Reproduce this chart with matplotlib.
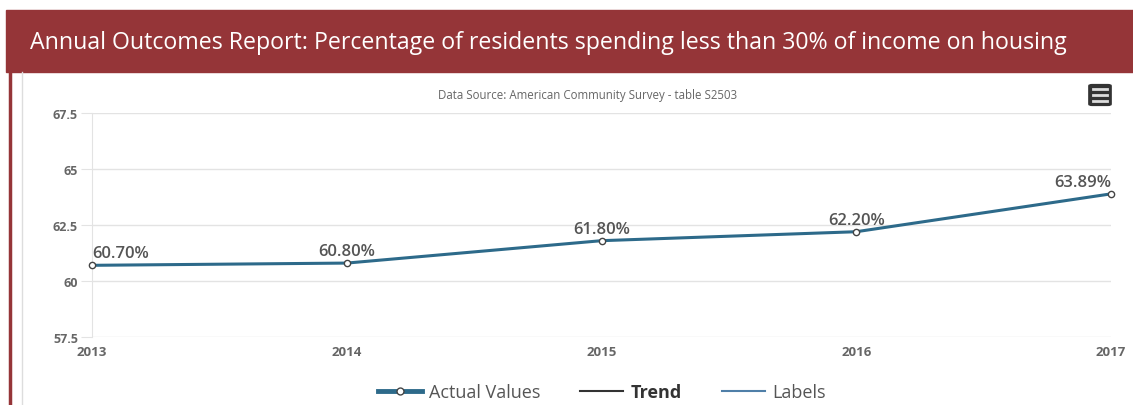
import matplotlib
matplotlib.use("Agg")
import matplotlib.pyplot as plt
from matplotlib.patches import Rectangle, FancyBboxPatch
from matplotlib.lines import Line2D

YEARS = [2013, 2014, 2015, 2016, 2017]
VALUES = [60.70, 60.80, 61.80, 62.20, 63.89]
LABELS = ["60.70%", "60.80%", "61.80%", "62.20%", "63.89%"]
YTICKS = [57.5, 60, 62.5, 65, 67.5]
YTICK_LABELS = ["57.5", "60", "62.5", "65", "67.5"]

TITLE = "Annual Outcomes Report: Percentage of residents spending less than 30% of income on housing"
SUBTITLE = "Data Source: American Community Survey - table S2503"

RED = "#953538"
LINE = "#2D6A8A"
GRID = "#e3e3e3"
TXT = "#666666"

W, H = 1133, 406
fig = plt.figure(figsize=(W / 100, H / 100), dpi=100)
fig.patch.set_facecolor("white")

# title banner
fig.patches.append(Rectangle((6 / W, 1 - 73 / H), 1 - 6 / W, 62 / H,
                             transform=fig.transFigure, color=RED, zorder=0))
fig.text(30 / W, 1 - 43 / H, TITLE, color="white", fontsize=16.7,
         family="Open Sans", va="center", ha="left")
# left red border and light panel edge
fig.add_artist(Line2D([10.5 / W, 10.5 / W], [0, 1 - 73 / H], color=RED, lw=2.5,
                      transform=fig.transFigure))
fig.add_artist(Line2D([22 / W, 22 / W], [0, 1 - 73 / H], color="#dddddd", lw=1,
                      transform=fig.transFigure))

ax = fig.add_axes([92 / W, 68 / H, (1111 - 92) / W, (338 - 114) / H])
ax.plot(YEARS, VALUES, color=LINE, lw=2.2, marker="o", ms=4.5,
        markerfacecolor="white", markeredgecolor="#444444", markeredgewidth=1,
        zorder=3, clip_on=False)
for x, y, s in zip(YEARS, VALUES, LABELS):
    ha = "left" if x == YEARS[0] else ("right" if x == YEARS[-1] else "center")
    ax.annotate(s, (x, y), xytext=(0, 3), textcoords="offset points", ha=ha,
                va="bottom", fontsize=12, color="#555555", family="Open Sans",
                fontweight="semibold")

ax.set_xlim(YEARS[0], YEARS[-1])
ax.set_ylim(57.5, 67.5)
ax.set_xticks(YEARS)
ax.set_xticklabels([str(y) for y in YEARS])
ax.set_yticks(YTICKS)
ax.set_yticklabels(YTICK_LABELS)
ax.grid(axis="y", color=GRID, lw=1)
for s in ["top", "right", "bottom"]:
    ax.spines[s].set_visible(False)
ax.spines["left"].set_color(GRID)
ax.tick_params(axis="y", length=8, color=GRID, labelsize=9, labelcolor=TXT, pad=2)
ax.tick_params(axis="x", length=0, labelsize=9.5, labelcolor=TXT, pad=6)
for lab in ax.get_xticklabels() + ax.get_yticklabels():
    lab.set_fontweight("bold")
    lab.set_family("Open Sans")

fig.text(588 / W, 1 - 96 / H, SUBTITLE, ha="center", va="center", fontsize=8.3,
         color="#666666", family="Open Sans")

# menu icon
fig.patches.append(FancyBboxPatch((1090 / W, 1 - 106 / H), 20 / W, 20 / H,
                                  boxstyle="round,pad=0.001,rounding_size=0.003",
                                  transform=fig.transFigure, color="#333333"))
for yy in [90, 96, 102]:
    fig.add_artist(Line2D([1093 / W, 1107 / W], [1 - yy / H, 1 - yy / H],
                          color="#dddddd", lw=2, transform=fig.transFigure))

handles = [
    Line2D([], [], color=LINE, lw=3.5, marker="o", ms=5, markerfacecolor="white",
           markeredgecolor="#444444"),
    Line2D([], [], color="#333333", lw=1.5),
    Line2D([], [], color="#4f7fa8", lw=1.5),
]
leg = fig.legend(handles, ["Actual Values", "Trend", "Labels"], loc="center",
                 bbox_to_anchor=(602 / W, 1 - 393 / H), ncol=3, frameon=False,
                 handlelength=2.4, columnspacing=2.2, handletextpad=0.4,
                 prop={"family": "Open Sans", "size": 13})
for t in leg.get_texts():
    t.set_color("#555555")
leg.get_texts()[1].set_color("#333333")
leg.get_texts()[1].set_fontweight("bold")

fig.savefig("out.png", dpi=100)
